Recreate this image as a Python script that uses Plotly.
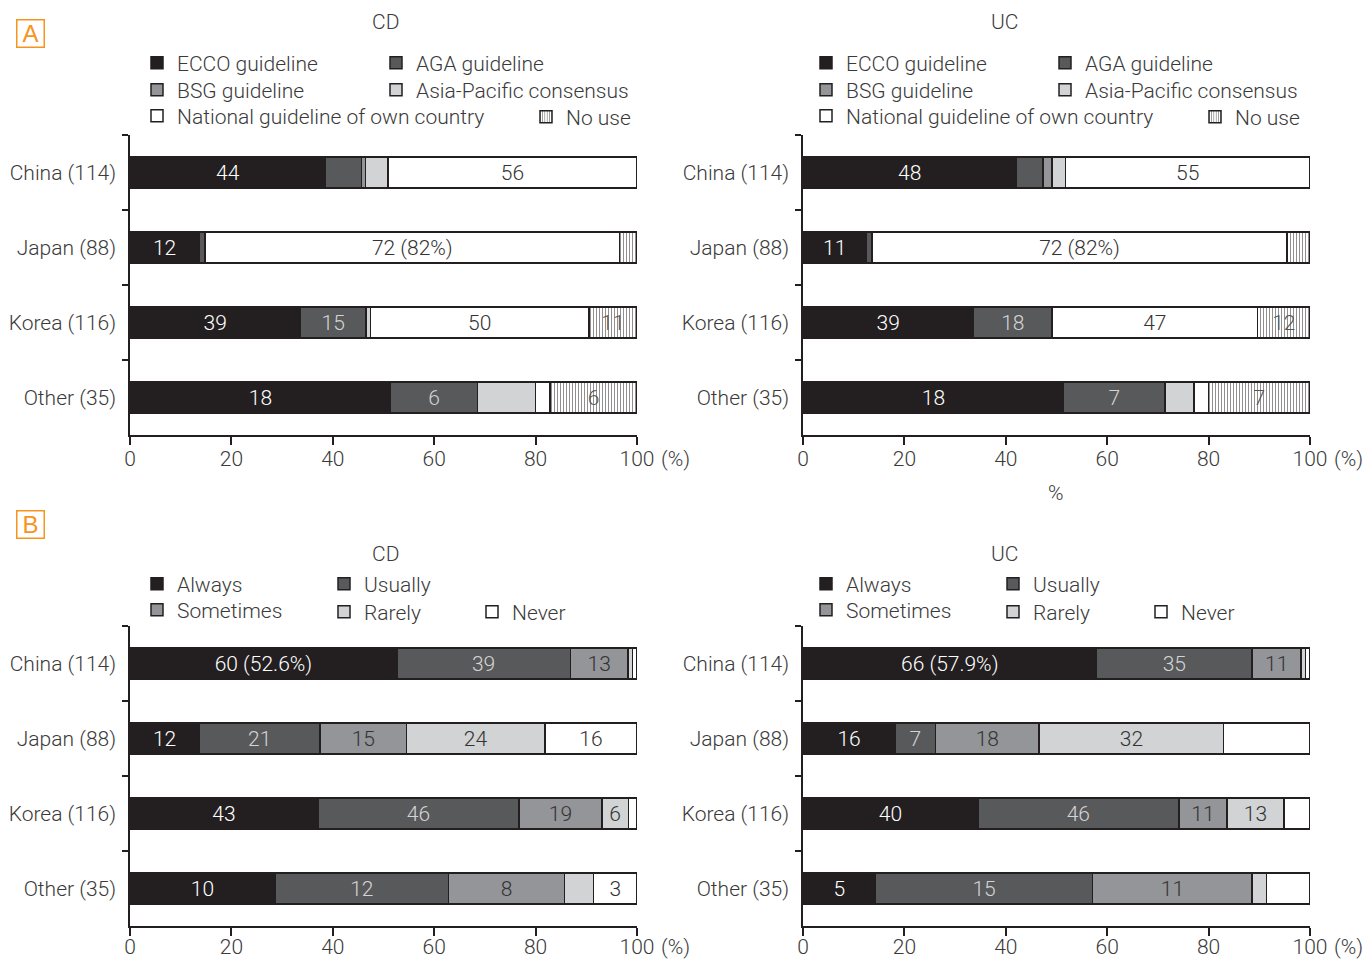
import plotly.graph_objects as go

# ---- data -------------------------------------------------------------
countries = ["China (114)", "Japan (88)", "Korea (116)", "Other (35)"]
respondents = [114, 88, 116, 35]

guideline_names = ["ECCO guideline", "AGA guideline", "BSG guideline",
                   "Asia-Pacific consensus", "National guideline of own country", "No use"]
# counts per guideline (rows) for each country (columns)
cd_guideline_counts = [
    [44, 12, 39, 18],
    [8, 1, 15, 6],
    [1, 0, 0, 0],
    [5, 0, 1, 4],
    [56, 72, 50, 1],
    [0, 3, 11, 6],
]
cd_guideline_labels = [
    ["44", "12", "39", "18"],
    ["", "", "15", "6"],
    ["", "", "", ""],
    ["", "", "", ""],
    ["56", "72 (82%)", "50", ""],
    ["", "", "11", "6"],
]
uc_guideline_counts = [
    [48, 11, 39, 18],
    [6, 1, 18, 7],
    [2, 0, 0, 0],
    [3, 0, 0, 2],
    [55, 72, 47, 1],
    [0, 4, 12, 7],
]
uc_guideline_labels = [
    ["48", "11", "39", "18"],
    ["", "", "18", "7"],
    ["", "", "", ""],
    ["", "", "", ""],
    ["55", "72 (82%)", "47", ""],
    ["", "", "12", "7"],
]

frequency_names = ["Always", "Usually", "Sometimes", "Rarely", "Never"]
cd_frequency_counts = [
    [60, 12, 43, 10],
    [39, 21, 46, 12],
    [13, 15, 19, 8],
    [1, 24, 6, 2],
    [1, 16, 2, 3],
]
cd_frequency_labels = [
    ["60 (52.6%)", "12", "43", "10"],
    ["39", "21", "46", "12"],
    ["13", "15", "19", "8"],
    ["", "24", "6", ""],
    ["", "16", "", "3"],
]
uc_frequency_counts = [
    [66, 16, 40, 5],
    [35, 7, 46, 15],
    [11, 18, 11, 11],
    [1, 32, 13, 1],
    [1, 15, 6, 3],
]
uc_frequency_labels = [
    ["66 (57.9%)", "16", "40", "5"],
    ["35", "7", "46", "15"],
    ["11", "18", "11", "11"],
    ["", "32", "13", ""],
    ["", "", "", ""],
]

x_ticks = [0, 20, 40, 60, 80, 100]

# ---- styling ----------------------------------------------------------
W, H = 1365, 960
INK = "#231f20"
TXT = "#3a3a3a"
FONT = "Roboto, 'Liberation Sans', Arial, sans-serif"
WEIGHT = 300
FS = 21

guideline_fills = ["#231f20", "#58595b", "#939598", "#d1d3d4", "#ffffff", "#ffffff"]
guideline_patterns = ["", "", "", "", "", "|"]
guideline_text = ["#ffffff", "#d4d4d4", "#333333", "#333333", "#333333", "#555555"]

frequency_fills = ["#231f20", "#58595b", "#939598", "#d1d3d4", "#ffffff"]
frequency_patterns = ["", "", "", "", ""]
frequency_text = ["#ffffff", "#d4d4d4", "#333333", "#333333", "#333333"]


def px_x(v):
    return v / W


def px_y(v):
    return 1 - v / H


def font(size=FS, color=TXT):
    return dict(family=FONT, size=size, color=color, weight=WEIGHT)


fig = go.Figure()
legend_layouts = {}
legend_counter = [0]


def add_panel(counts, labels, names, fills, patterns, text_colors,
              xa, ya, legend_spots):
    for k, name in enumerate(names):
        pct = [c / n * 100 for c, n in zip(counts[k], respondents)]
        legend_counter[0] += 1
        lid = "legend" if legend_counter[0] == 1 else f"legend{legend_counter[0]}"
        fig.add_trace(go.Bar(
            x=pct, y=countries, orientation="h", name=name,
            xaxis=xa, yaxis=ya, legend=lid,
            width=0.41,
            marker=dict(color=fills[k], line=dict(color=INK, width=1.5),
                        pattern=dict(shape=patterns[k], fgcolor=INK, bgcolor="#ffffff",
                                     size=3, solidity=0.35, fillmode="overlay")),
            text=labels[k], textposition="inside", insidetextanchor="middle",
            textangle=0, constraintext="none",
            textfont=font(FS, text_colors[k]),
            hovertemplate="%{y}: %{x:.1f}%<extra>" + name + "</extra>",
        ))
        tx, ty = legend_spots[k]
        legend_layouts[lid] = dict(
            x=px_x(tx - 40), y=px_y(ty), xanchor="left", yanchor="middle",
            bgcolor="rgba(0,0,0,0)", borderwidth=0,
            font=font(FS),
            itemclick=False, itemdoubleclick=False,
        )


# text start / row centre of every legend entry
gl_left = [(177, 63), (416, 63), (177, 90), (416, 90), (177, 116), (566, 117)]
gl_right = [(x + 669, y) for x, y in gl_left]
fq_left = [(177, 584), (364, 584), (177, 610), (364, 612), (512, 612)]
fq_right = [(x + 669, y) for x, y in fq_left]

add_panel(cd_guideline_counts, cd_guideline_labels, guideline_names, guideline_fills,
          guideline_patterns, guideline_text, "x", "y", gl_left)
add_panel(uc_guideline_counts, uc_guideline_labels, guideline_names, guideline_fills,
          guideline_patterns, guideline_text, "x2", "y2", gl_right)
add_panel(cd_frequency_counts, cd_frequency_labels, frequency_names, frequency_fills,
          frequency_patterns, frequency_text, "x3", "y3", fq_left)
add_panel(uc_frequency_counts, uc_frequency_labels, frequency_names, frequency_fills,
          frequency_patterns, frequency_text, "x4", "y4", fq_right)

left_dom = [px_x(130), px_x(637)]
right_dom = [px_x(803), px_x(1310)]
top_dom = [px_y(435), px_y(135)]
bot_dom = [px_y(926), px_y(626)]

xcommon = dict(range=[0, 100], tickvals=x_ticks, ticks="outside", ticklen=8,
               tickwidth=1.5, tickcolor=INK, showline=True, linecolor=INK, linewidth=1.5,
               showgrid=False, zeroline=False, fixedrange=True, automargin=False,
               tickfont=font(FS))
ycommon = dict(type="category", categoryorder="array", categoryarray=countries,
               range=[3.5, -0.5], tickson="boundaries", ticks="outside", ticklen=6,
               tickwidth=1.5, tickcolor=INK, showline=True, linecolor=INK, linewidth=1.5,
               showgrid=False, zeroline=False, fixedrange=True, automargin=False,
               ticklabelstandoff=8, tickfont=font(FS))

# label offset below each x axis (bottom row sits tighter to stay inside the page)
x_label_standoff = {1: -4, 2: -4, 3: -7, 4: -7}
x_label_gap = {1: 24, 2: 24, 3: 21, 4: 21}

layout_axes = {}
for i, (xd, yd) in enumerate([(left_dom, top_dom), (right_dom, top_dom),
                              (left_dom, bot_dom), (right_dom, bot_dom)], start=1):
    xs = "xaxis" if i == 1 else f"xaxis{i}"
    ys = "yaxis" if i == 1 else f"yaxis{i}"
    yref = "y" if i == 1 else f"y{i}"
    xref = "x" if i == 1 else f"x{i}"
    layout_axes[xs] = dict(xcommon, domain=xd, anchor=yref,
                           ticklabelstandoff=x_label_standoff[i])
    layout_axes[ys] = dict(ycommon, domain=yd, anchor=xref)

annotations = []
# "(%)" unit after the 100 tick of every panel
for i, yax_bottom in [(1, 435), (2, 435), (3, 926), (4, 926)]:
    xref = "x" if i == 1 else f"x{i}"
    annotations.append(dict(x=100, xref=xref, y=px_y(yax_bottom + x_label_gap[i]),
                            yref="paper", text="(%)", showarrow=False, xanchor="left",
                            yanchor="middle", xshift=22, font=font(FS)))

for txt, x, y in [("CD", 385, 22), ("UC", 1004, 22), ("%", 1056, 493),
                  ("CD", 385, 554), ("UC", 1004, 554)]:
    annotations.append(dict(x=px_x(x), y=px_y(y), xref="paper", yref="paper", text=txt,
                            showarrow=False, xanchor="center", yanchor="middle",
                            font=font(FS)))

for txt, y in [("A", 33), ("B", 524)]:
    annotations.append(dict(x=px_x(30), y=px_y(y), xref="paper", yref="paper", text=txt,
                            showarrow=False, xanchor="center", yanchor="middle",
                            width=26, height=26, bordercolor="#f7941d", borderwidth=1.5,
                            borderpad=0,
                            font=dict(family="'Liberation Sans Narrow', Arial, sans-serif",
                                      size=24, color="#f7941d")))

fig.update_layout(
    width=W, height=H, margin=dict(l=0, r=0, t=0, b=0, autoexpand=False),
    paper_bgcolor="#ffffff", plot_bgcolor="#ffffff",
    barmode="stack", bargap=0.59, showlegend=True,
    annotations=annotations,
    font=font(FS),
    **layout_axes,
    **legend_layouts,
)

fig.write_html("out.html", config={"displayModeBar": False})
